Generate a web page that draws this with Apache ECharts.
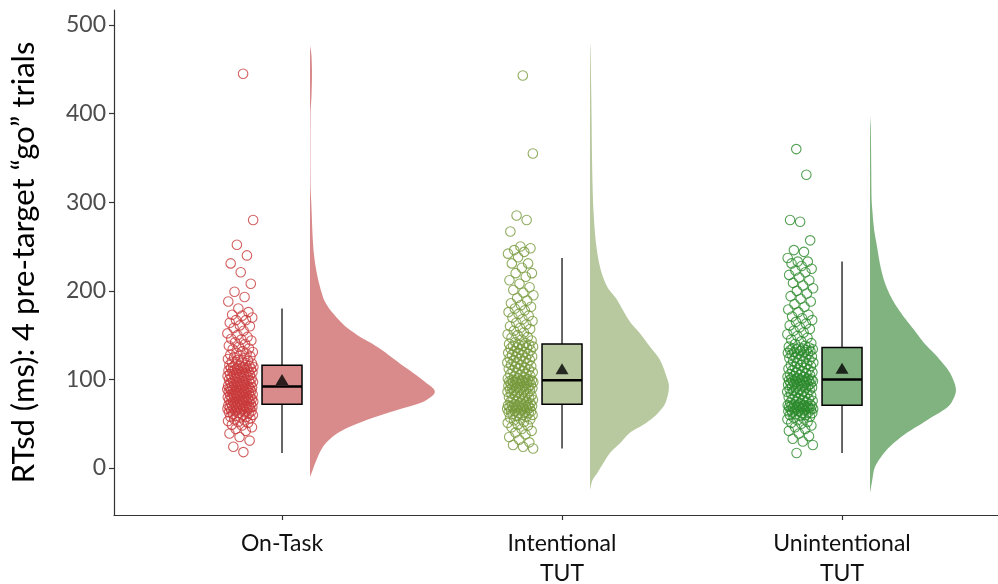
<!DOCTYPE html>
<html>
<head>
<meta charset="utf-8">
<script src="https://cdn.jsdelivr.net/npm/echarts@6/dist/echarts.min.js"></script>
<style>
  html, body { margin: 0; padding: 0; background: #ffffff; }
  #chart { width: 998px; height: 584px; }
</style>
</head>
<body>
<div id="chart"></div>
<script>
// Condition labels along the x axis
const categories = ['On-Task', 'Intentional\nTUT', 'Unintentional\nTUT'];
const yTicks = [0, 100, 200, 300, 400, 500];

// Per-participant RTsd (ms) for each thought condition
const onTaskRT = [
  18, 24, 31, 35, 39, 42, 44, 46, 48, 49, 51, 52, 53, 54, 55, 56, 57, 58, 58, 59,
  60, 60, 61, 62, 62, 63, 63, 64, 64, 65, 65, 66, 66, 67, 67, 67, 68, 68, 68, 69,
  69, 69, 70, 70, 70, 71, 71, 71, 72, 72,
  73, 73, 74, 74, 75, 75, 75, 76, 76, 77, 77, 78, 78, 78, 79, 79, 80, 80, 80, 81,
  81, 82, 82, 83, 83, 83, 84, 84, 85, 85, 86, 86, 86, 87, 87, 88, 88, 88, 89, 89,
  89, 90, 90, 90, 91, 91, 91, 92, 92, 92,
  93, 93, 94, 94, 95, 95, 96, 96, 97, 97, 98, 98, 99, 99, 100, 100, 101, 101, 102, 102,
  103, 103, 104, 104, 105, 105, 106, 106, 107, 107, 108, 108, 109, 109, 110, 110, 111, 111, 112, 112,
  113, 113, 113, 114, 114, 114, 115, 115, 116, 116,
  117, 118, 119, 120, 121, 122, 123, 124, 125, 126, 127, 128, 129, 130, 131, 132, 134, 135, 137, 138,
  140, 142, 144, 145, 146, 148, 150, 152, 155, 158, 160, 161, 164, 167, 167, 170, 172, 173, 176, 180,
  188, 193, 199, 208, 221, 231, 240, 252, 280, 445
];
const intentionalRT = [
  22, 24, 26, 29, 32, 35, 38, 40, 42, 44, 46, 48, 49, 51, 52, 54, 55, 56, 57, 58,
  59, 60, 60, 61, 62, 62, 63, 63, 64, 64, 65, 65, 66, 66, 67, 67, 68, 68, 68, 69,
  69, 69, 70, 70, 70, 71, 71, 71, 72, 72,
  73, 74, 75, 75, 76, 77, 78, 78, 79, 80, 80, 81, 82, 82, 83, 84, 84, 85, 86, 86,
  87, 87, 88, 89, 89, 90, 90, 91, 91, 92, 92, 93, 93, 94, 94, 95, 95, 96, 96, 97,
  97, 97, 98, 98, 98, 99, 99, 99, 99, 99,
  100, 101, 101, 102, 103, 104, 105, 106, 106, 107, 108, 109, 110, 111, 112, 112, 113, 114, 115, 116,
  117, 118, 118, 119, 120, 121, 122, 123, 124, 124, 125, 126, 127, 128, 129, 130, 130, 131, 132, 133,
  134, 135, 136, 136, 137, 138, 138, 139, 139, 140,
  141, 142, 144, 145, 147, 148, 150, 151, 153, 155, 157, 158, 160, 162, 164, 166, 168, 170, 172, 174,
  176, 178, 180, 182, 184, 186, 189, 192, 195, 198, 201, 204, 208, 212, 216, 220, 220, 226, 231, 231,
  238, 242, 244, 246, 248, 250, 267, 280, 285, 355, 443
];
const unintentionalRT = [
  17, 26, 30, 33, 36, 39, 42, 44, 46, 48, 50, 51, 52, 54, 55, 56, 57, 58, 59, 60,
  60, 61, 62, 62, 63, 63, 64, 64, 65, 65, 66, 66, 66, 67, 67, 67, 68, 68, 68, 69,
  69, 69, 69, 70, 70, 70, 70, 71, 71, 71,
  72, 72, 73, 74, 75, 75, 76, 77, 78, 78, 79, 80, 81, 81, 82, 83, 84, 84, 85, 86,
  86, 87, 88, 88, 89, 90, 90, 91, 92, 92, 93, 93, 94, 94, 95, 95, 96, 96, 97, 97,
  98, 98, 98, 99, 99, 99, 99, 100, 100, 100,
  101, 101, 102, 103, 103, 104, 105, 105, 106, 107, 108, 108, 109, 110, 111, 111, 112, 113, 114, 115,
  116, 116, 117, 118, 119, 120, 121, 122, 123, 124, 125, 125, 126, 127, 128, 129, 129, 130, 131, 131,
  132, 132, 133, 133, 134, 134, 135, 135, 136, 136,
  137, 138, 140, 141, 143, 145, 147, 149, 151, 153, 155, 157, 159, 161, 163, 165, 167, 169, 171, 173,
  176, 179, 182, 185, 188, 191, 194, 197, 200, 203, 206, 209, 212, 215, 218, 221, 223, 225, 228, 231,
  233, 233, 237, 244, 246, 257, 278, 280, 331, 360
];
const groupValues = [onTaskRT, intentionalRT, unintentionalRT];

// Box summaries: [lower whisker, Q1, median, Q3, upper whisker]
const boxStats = [
  [17, 72, 92, 116, 180],
  [22, 72, 99, 140, 237],
  [17, 71, 100, 136, 233]
];
const groupMeans = [100, 112, 112.5];

// Half-violin outlines: RT levels and density widths (relative to the On-Task peak)
const violinLevels = [
  [-10, -5, 5, 24, 39, 50, 62, 77, 86, 99, 118, 137, 150, 163, 193, 250, 300, 320, 360, 400, 420, 445, 465, 477],
  [-25, -15, -6, 5, 17, 28, 40, 50, 62, 75, 92, 105, 122, 137, 152, 165, 178, 190, 205, 227, 245, 265, 302, 350, 400, 440, 470, 481],
  [-28, -15, -2, 17, 35, 54, 73, 88, 103, 126, 140, 156, 175, 193, 212, 230, 250, 270, 288, 306, 340, 381, 398]
];
const violinWidths = [
  [0, 0.014, 0.04, 0.104, 0.216, 0.376, 0.616, 0.936, 1.0, 0.904, 0.72, 0.536, 0.38, 0.26, 0.104, 0.026, 0.01, 0.004, 0.003, 0.004, 0.012, 0.016, 0.012, 0],
  [0, 0.016, 0.056, 0.104, 0.16, 0.24, 0.32, 0.44, 0.544, 0.608, 0.632, 0.608, 0.56, 0.48, 0.4, 0.32, 0.264, 0.216, 0.136, 0.08, 0.056, 0.04, 0.024, 0.016, 0.012, 0.008, 0.004, 0],
  [0, 0.016, 0.032, 0.112, 0.248, 0.456, 0.648, 0.688, 0.656, 0.536, 0.44, 0.352, 0.248, 0.168, 0.112, 0.08, 0.056, 0.032, 0.02, 0.012, 0.0096, 0.0064, 0]
];

const fillColors = ['#d98b8b', '#b8c9a0', '#80b380'];
const pointColors = ['#c8383a', '#76993a', '#2a8a2a'];

const FONT = 'Lato, "Open Sans", sans-serif';
const VIOLIN_OFFSET = 0.1;     // gap between category centre and violin baseline
const VIOLIN_SCALE = 0.446;    // x-units for a relative width of 1
const BOX_HALF = 0.0714;
const JITTER_LEFT = -0.196;
const JITTER_SPAN = 0.094;

// Deterministic horizontal spread for the raw points
function jitter(i, g) {
  const f = ((i + 1) * 0.6180339887 + g * 0.37) % 1;
  return JITTER_LEFT + f * JITTER_SPAN;
}

// Monotone cubic (Fritsch–Carlson) evaluation for a smooth outline without overshoot
function monotoneSampler(xs, ys) {
  const n = xs.length;
  const d = [], m = new Array(n);
  for (let i = 0; i < n - 1; i++) d.push((ys[i + 1] - ys[i]) / (xs[i + 1] - xs[i]));
  m[0] = d[0]; m[n - 1] = d[n - 2];
  for (let i = 1; i < n - 1; i++) {
    if (d[i - 1] * d[i] <= 0) m[i] = 0;
    else {
      const h0 = xs[i] - xs[i - 1], h1 = xs[i + 1] - xs[i];
      const w1 = 2 * h1 + h0, w2 = h1 + 2 * h0;
      m[i] = (w1 + w2) / (w1 / d[i - 1] + w2 / d[i]);
    }
  }
  return function (x) {
    let i = 0;
    while (i < n - 2 && x > xs[i + 1]) i++;
    const h = xs[i + 1] - xs[i], t = (x - xs[i]) / h;
    const t2 = t * t, t3 = t2 * t;
    return (2 * t3 - 3 * t2 + 1) * ys[i] + (t3 - 2 * t2 + t) * h * m[i] +
           (-2 * t3 + 3 * t2) * ys[i + 1] + (t3 - t2) * h * m[i + 1];
  };
}

const scatterSeries = groupValues.map((vals, g) => ({
  type: 'scatter',
  z: 3,
  symbol: 'circle',
  symbolSize: 9.5,
  silent: true,
  itemStyle: {
    color: 'rgba(255,255,255,0)',
    borderColor: pointColors[g],
    borderWidth: 1.1,
    opacity: 0.8
  },
  data: vals.map((v, i) => [g + jitter(i, g), v])
}));

function violinRender(params, api) {
  const g = api.value(0);
  const lv = violinLevels[g], wd = violinWidths[g];
  const f = monotoneSampler(lv, wd);
  const base = g + VIOLIN_OFFSET;
  const lo = lv[0], hi = lv[lv.length - 1];
  const steps = 240;
  const pts = [api.coord([base, lo])];
  for (let k = 0; k <= steps; k++) {
    const v = lo + (hi - lo) * k / steps;
    pts.push(api.coord([base + Math.max(0, f(v)) * VIOLIN_SCALE, v]));
  }
  pts.push(api.coord([base, hi]));
  return {
    type: 'polygon',
    shape: { points: pts },
    style: { fill: fillColors[g], stroke: null }
  };
}

function boxRender(params, api) {
  const g = api.value(0);
  const s = boxStats[g];
  const cx = api.coord([g, s[0]])[0];
  const lo = api.coord([g, s[0]])[1];
  const q1 = api.coord([g, s[1]])[1];
  const med = api.coord([g, s[2]])[1];
  const q3 = api.coord([g, s[3]])[1];
  const hi = api.coord([g, s[4]])[1];
  const xl = api.coord([g - BOX_HALF, 0])[0];
  const xr = api.coord([g + BOX_HALF, 0])[0];
  return {
    type: 'group',
    children: [
      { type: 'line', shape: { x1: cx, y1: q3, x2: cx, y2: hi }, style: { stroke: '#000', lineWidth: 1.2 } },
      { type: 'line', shape: { x1: cx, y1: q1, x2: cx, y2: lo }, style: { stroke: '#000', lineWidth: 1.2 } },
      { type: 'rect', shape: { x: xl, y: q3, width: xr - xl, height: q1 - q3 },
        style: { fill: fillColors[g], stroke: '#000', lineWidth: 1.5 } },
      { type: 'line', shape: { x1: xl, y1: med, x2: xr, y2: med }, style: { stroke: '#000', lineWidth: 2.5 } }
    ]
  };
}

const chart = echarts.init(document.getElementById('chart'), null, { renderer: 'canvas' });
chart.setOption({
  backgroundColor: '#ffffff',
  animation: false,
  grid: { left: 114, right: 0, top: 10, bottom: 69, containLabel: false, outerBoundsMode: 'none' },
  xAxis: {
    type: 'value',
    min: -0.6,
    max: 2.557,
    splitLine: { show: false },
    axisLine: { show: true, onZero: false, lineStyle: { color: '#333333', width: 1.2 } },
    axisTick: { show: true, customValues: [0, 1, 2], length: 5, lineStyle: { color: '#333333', width: 1.2 } },
    axisLabel: {
      customValues: [0, 1, 2],
      formatter: v => categories[Math.round(v)],
      fontFamily: FONT,
      fontSize: 23,
      lineHeight: 30,
      color: '#111111',
      margin: 14
    }
  },
  yAxis: {
    type: 'value',
    min: -53,
    max: 517,
    name: 'RTsd (ms): 4 pre-target \u201cgo\u201d trials',
    nameLocation: 'middle',
    nameGap: 75,
    nameTextStyle: { fontFamily: FONT, fontSize: 31, color: '#000000' },
    splitLine: { show: false },
    axisLine: { show: true, onZero: false, lineStyle: { color: '#333333', width: 1.2 } },
    axisTick: { show: true, customValues: yTicks, length: 5, lineStyle: { color: '#333333', width: 1.2 } },
    axisLabel: {
      customValues: yTicks,
      fontFamily: FONT,
      fontSize: 23,
      color: '#4d4d4d',
      margin: 8
    }
  },
  series: [
    {
      type: 'custom',
      z: 1,
      silent: true,
      renderItem: violinRender,
      data: [[0], [1], [2]]
    },
    {
      type: 'custom',
      z: 2,
      silent: true,
      renderItem: boxRender,
      data: [[0], [1], [2]]
    },
    ...scatterSeries,
    {
      type: 'scatter',
      z: 4,
      silent: true,
      symbol: 'triangle',
      symbolSize: [13, 11],
      itemStyle: { color: '#000000' },
      data: groupMeans.map((m, g) => [g, m])
    }
  ]
});
</script>
</body>
</html>
